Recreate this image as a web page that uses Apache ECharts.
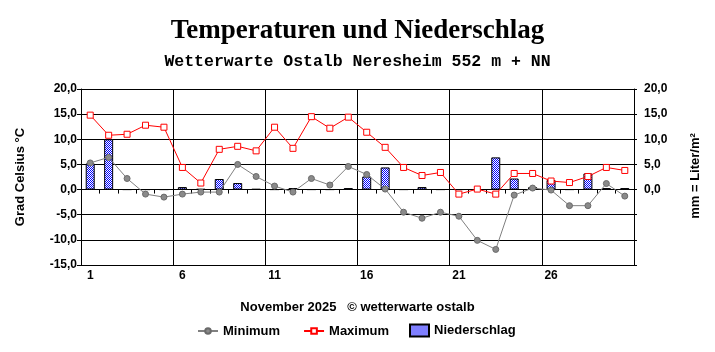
<!DOCTYPE html>
<html>
<head>
<meta charset="utf-8">
<script src="https://cdn.jsdelivr.net/npm/echarts@6/dist/echarts.min.js"></script>
<style>
html,body{margin:0;padding:0;background:#fff;}
#chart{width:715px;height:352px;}
</style>
</head>
<body>
<div id="chart"></div>
<script>
const days = ['1','2','3','4','5','6','7','8','9','10','11','12','13','14','15','16','17','18','19','20','21','22','23','24','25','26','27','28','29','30'];
const tMin = [5.3, 6.4, 2.2, -0.9, -1.5, -0.9, -0.5, -0.5, 5.0, 2.6, 0.7, -0.5, 2.2, 0.9, 4.6, 3.0, 0.1, -4.5, -5.7, -4.5, -5.3, -10.1, -11.9, -1.1, 0.3, -0.1, -3.2, -3.2, 1.2, -1.3];
const tMax = [14.8, 10.8, 11.0, 12.8, 12.4, 4.4, 1.3, 8.0, 8.6, 7.7, 12.4, 8.2, 14.5, 12.2, 14.4, 11.4, 8.4, 4.4, 2.8, 3.4, -0.9, 0.1, -0.9, 3.2, 3.2, 1.7, 1.4, 2.6, 4.4, 3.8];
const precip = [5.2, 10.0, 0, 0, 0, 0.5, 0.1, 2.1, 1.3, 0.1, 0, 0.3, 0, 0, 0.3, 2.6, 4.4, 0, 0.5, 0, 0, 0, 6.4, 2.2, 0.5, 1.9, 0, 3.2, 0.3, 0.3];

const titleText = 'Temperaturen und Niederschlag';
const subText = 'Wetterwarte Ostalb Neresheim 552 m + NN';
const footText = 'November 2025   \u00A9 wetterwarte ostalb';
const leftName = 'Grad Celsius \u00B0C';
const rightName = 'mm = Liter/m\u00B2';
const seriesNames = ['Minimum', 'Maximum', 'Niederschlag'];

// dotted blue pattern for the bars
const pc = document.createElement('canvas');
pc.width = 2; pc.height = 2;
const pctx = pc.getContext('2d');
pctx.fillStyle = '#ffffff'; pctx.fillRect(0,0,2,2);
pctx.fillStyle = '#0000ff'; pctx.fillRect(0,0,1,1); pctx.fillRect(1,1,1,1);
const barFill = {image: pc, repeat: 'repeat'};

const fmt = v => v.toFixed(1).replace('.', ',');
const sans = 'Liberation Sans';
const legendText = {fontFamily: sans, fontWeight: 'bold', fontSize: 13, color: '#000'};

const chart = echarts.init(document.getElementById('chart'), null, {renderer: 'canvas'});
chart.setOption({
  animation: false,
  backgroundColor: '#fff',
  title: [
    {text: titleText, left: 'center', top: 13,
     textStyle: {fontFamily: 'Liberation Serif', fontWeight: 'bold', fontSize: 27, color: '#000'}},
    {text: subText, left: 'center', top: 48,
     textStyle: {fontFamily: 'Liberation Mono', fontWeight: 'bold', fontSize: 16.5, color: '#000'}},
    {text: footText, left: 'center', top: 296,
     textStyle: {fontFamily: sans, fontWeight: 'bold', fontSize: 13, color: '#000'}}
  ],
  legend: [
    {data: [seriesNames[0], seriesNames[1]],
     left: 192, top: 319.5, itemWidth: 20, itemHeight: 7, itemGap: 23,
     textStyle: legendText},
    {data: [{name: seriesNames[2], icon: 'rect'}],
     left: 404, top: 318.5, itemWidth: 19, itemHeight: 12,
     textStyle: legendText}
  ],
  graphic: [
    {type: 'text', x: 20, y: 177, rotation: Math.PI/2,
     style: {text: leftName, x: 0, y: 0, textAlign: 'center', textVerticalAlign: 'middle',
             font: 'bold 13px "Liberation Sans"', fill: '#000'}},
    {type: 'text', x: 695, y: 176, rotation: Math.PI/2,
     style: {text: rightName, x: 0, y: 0, textAlign: 'center', textVerticalAlign: 'middle',
             font: 'bold 13px "Liberation Sans"', fill: '#000'}}
  ],
  grid: {left: 81, top: 89, width: 553, height: 176, containLabel: false},
  xAxis: [
    {type: 'category', data: days, position: 'bottom', boundaryGap: true,
     axisLine: {onZero: false, lineStyle: {color: '#000', width: 1}},
     axisTick: {show: false, interval: 4},
     axisLabel: {interval: 4, margin: 5, color: '#000', fontFamily: sans, fontWeight: 'bold', fontSize: 12},
     splitLine: {show: true, interval: 4, lineStyle: {color: '#000', width: 1}}},
    {type: 'category', data: days, position: 'bottom', boundaryGap: true,
     axisLine: {onZero: true, lineStyle: {color: '#000', width: 1}},
     axisTick: {show: true, interval: 0, length: 4, lineStyle: {color: '#000'}},
     axisLabel: {show: false},
     splitLine: {show: false}}
  ],
  yAxis: [
    {type: 'value', min: -15, max: 20, interval: 5, position: 'left',
     axisLine: {show: true, lineStyle: {color: '#000'}},
     axisTick: {show: true, length: 4, lineStyle: {color: '#000'}},
     axisLabel: {margin: 4, formatter: fmt, color: '#000', fontFamily: sans, fontWeight: 'bold', fontSize: 12},
     splitLine: {show: true, lineStyle: {color: '#000', width: 1}}},
    {type: 'value', min: -15, max: 20, interval: 5, position: 'right',
     axisLine: {show: true, lineStyle: {color: '#000'}},
     axisTick: {show: true, length: 3, lineStyle: {color: '#000'}},
     axisLabel: {margin: 10, formatter: v => (v >= 0 ? fmt(v) : ''), color: '#000', fontFamily: sans, fontWeight: 'bold', fontSize: 12},
     splitLine: {show: false}}
  ],
  series: [
    {name: 'Niederschlag', type: 'bar', xAxisIndex: 0, yAxisIndex: 1, data: precip,
     barWidth: 9, z: 2,
     itemStyle: {color: barFill, borderColor: '#000', borderWidth: 1}},
    {name: 'Minimum', type: 'line', xAxisIndex: 0, yAxisIndex: 0, data: tMin,
     symbol: 'circle', symbolSize: 6, z: 3,
     lineStyle: {color: '#808080', width: 1},
     itemStyle: {color: '#8a8a8a', borderColor: '#6a6a6a', borderWidth: 1}},
    {name: 'Maximum', type: 'line', xAxisIndex: 0, yAxisIndex: 0, data: tMax,
     symbol: 'rect', symbolSize: 6, z: 4,
     lineStyle: {color: '#ff0000', width: 1},
     itemStyle: {color: '#ffffff', borderColor: '#ff0000', borderWidth: 1}}
  ]
});
</script>
</body>
</html>
